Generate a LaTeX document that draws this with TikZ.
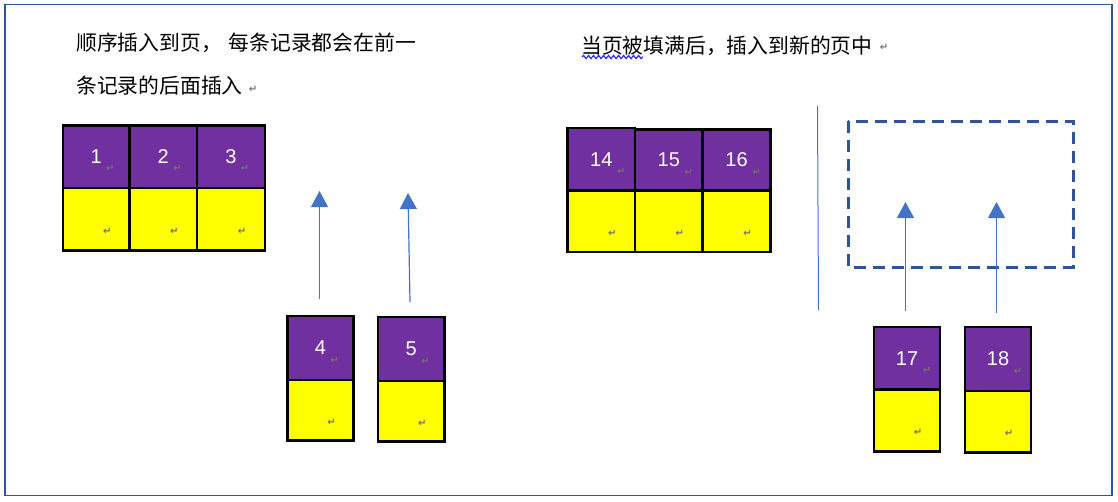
\documentclass[tikz,border=0pt]{standalone}
\usepackage{fontspec}
\setmainfont{Liberation Sans}
\newfontfamily\cjk{Noto Sans CJK SC}
\newfontfamily\djv{DejaVu Sans}
\usetikzlibrary{arrows.meta,decorations.pathmorphing}
\definecolor{recpurple}{HTML}{7030A0}
\definecolor{recyellow}{HTML}{FFFF00}
\definecolor{arrowblue}{HTML}{4472C4}
\definecolor{framenavy}{HTML}{2F5597}
\definecolor{markgray}{HTML}{707070}
\definecolor{wavyblue}{HTML}{2B2BFF}
\newcommand\mkrec[8]{%
  \node[pcell, minimum width={(#3-#2)*1pt}, minimum height={(#5-#4)*1pt}] (#1p) at ({(#2+#3)/2},{(#4+#5)/2}) {#7};
  \node[ycell, minimum width={(#3-#2)*1pt}, minimum height={(#6-#5)*1pt}] (#1y) at ({(#2+#3)/2},{(#5+#6)/2}) {};
  \node[retmark] (#1pm) at ([shift={(#8,12)}]#1p.center) {↵};
  \node[retmark] (#1ym) at ([shift={(11,12)}]#1y.center) {↵};
}
\begin{document}
\begin{tikzpicture}[x=1pt,y=-1pt,
  pcell/.style={draw=black, line width=2.7pt, fill=recpurple, inner sep=0pt, text=white,
    font=\fontsize{20}{23}\selectfont},
  ycell/.style={draw=black, line width=2.7pt, fill=recyellow, inner sep=0pt},
  retmark/.style={inner sep=0pt, text=markgray, font=\djv\bfseries\fontsize{10}{10}\selectfont},
  cjktext/.style={inner sep=0pt, anchor=west, font=\cjk\fontsize{20.8}{24}\selectfont},
  uparrow/.style={draw=arrowblue, line width=1.2pt, -{Triangle[width=17pt,length=16pt]}},
  wavy/.style={draw=wavyblue, line width=1.2pt, decorate, decoration={snake, segment length=5pt, amplitude=1.6pt}},
  newpage/.style={draw=framenavy, line width=3pt, dash pattern=on 12pt off 7pt},
  sepline/.style={draw=arrowblue, line width=1pt}
]
\useasboundingbox (0,0) rectangle (1118,501);
\draw[framenavy, line width=1.2pt] (5,4.5) rectangle (1112,495.5);

% texts
\node[cjktext] (t1) at (76,43) {顺序插入到页，\hspace{7pt}每条记录都会在前一};
\node[cjktext] (t2) at (76,86) {条记录的后面插入};
\node[retmark] (t2m) at (253,89) {↵};
\node[cjktext] (t3) at (581,45.5) {当页被填满后，插入到新的页中};
\node[retmark] (t3m) at (884,47) {↵};
\coordinate (wl) at (582,57);
\coordinate (wr) at (643,57);
\draw[wavy] (wl) -- (wr);

% left page
\mkrec{r1}{63}{129.5}{125.5}{188}{250.5}{1}{14}
\mkrec{r2}{129.5}{197}{125.5}{188}{250.5}{2}{14}
\mkrec{r3}{197}{265}{125.5}{188}{250.5}{3}{14}

\mkrec{r4}{287.5}{353.5}{316}{380}{440.5}{4}{14}
\mkrec{r5}{378}{444.5}{317}{381}{441.5}{5}{14}

\coordinate (a1s) at (319.5,299);
\coordinate (a1e) at (319.5,191);
\coordinate (a2s) at (410,302);
\coordinate (a2e) at (408,193);
\draw[uparrow] (a1s) -- (a1e);
\draw[uparrow] (a2s) -- (a2e);

% right page
\mkrec{r14}{567.5}{635}{128}{190.5}{252}{14}{20}
\mkrec{r15}{635}{702.5}{129.5}{190.5}{252}{15}{20}
\mkrec{r16}{702.5}{770.5}{129.5}{190.5}{252}{16}{20}

\coordinate (s1) at (817.5,106);
\coordinate (s2) at (818.5,310);
\draw[sepline] (s1) -- (s2);

\coordinate (np1) at (848,121);
\coordinate (np2) at (1073,267);
\draw[newpage] (np1) rectangle (np2);

\mkrec{r17}{874}{940}{327}{389.5}{451.5}{17}{20}
\mkrec{r18}{965}{1031}{327}{391}{452.5}{18}{20}

\coordinate (a3s) at (905.5,311);
\coordinate (a3e) at (905.5,202);
\coordinate (a4s) at (996.5,313);
\coordinate (a4e) at (996.5,202);
\draw[uparrow] (a3s) -- (a3e);
\draw[uparrow] (a4s) -- (a4e);
\end{tikzpicture}
\end{document}
